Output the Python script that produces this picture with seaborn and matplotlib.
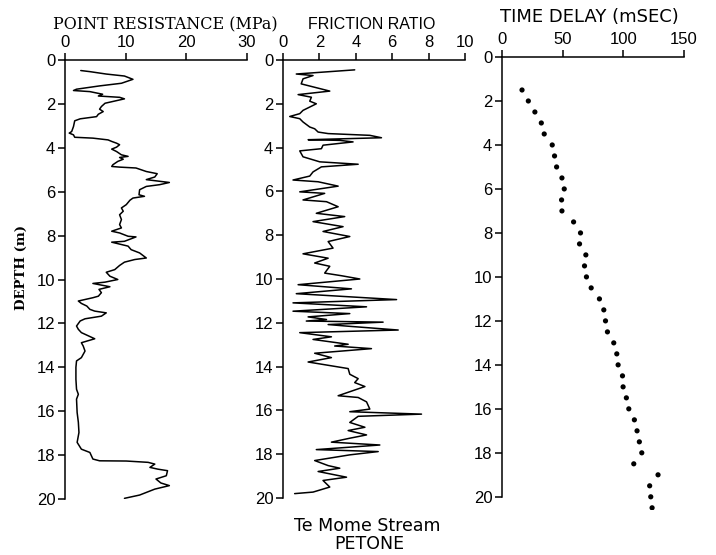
import matplotlib
matplotlib.use("Agg")
import matplotlib.pyplot as plt
import seaborn as sns
import pandas as pd

# Cone penetration log, Te Mome Stream, Petone
qc_depth = [0.48, 0.53, 0.64, 0.73, 0.88, 1.06, 1.18, 1.33, 1.39, 1.44, 1.52, 1.56, 1.64, 1.70,
            1.77, 1.89, 1.97, 2.12, 2.24, 2.35, 2.47, 2.58, 2.68, 2.77, 3.03, 3.26, 3.33, 3.41,
            3.52, 3.56, 3.64, 3.71, 3.79, 3.86, 3.97, 4.06, 4.17, 4.32, 4.39, 4.44, 4.52, 4.62,
            4.77, 4.85, 4.88, 4.92, 5.08, 5.18, 5.33, 5.45, 5.58, 5.68, 5.76, 5.91, 6.14, 6.21,
            6.29, 6.39, 6.59, 6.74, 6.89, 7.05, 7.27, 7.50, 7.65, 7.80, 7.88, 8.03, 8.06, 8.26,
            8.30, 8.48, 8.64, 8.79, 9.02, 9.09, 9.21, 9.36, 9.55, 9.67, 9.85, 10.00, 10.12,
            10.18, 10.33, 10.45, 10.60, 10.76, 10.83, 10.98, 11.09, 11.21, 11.36, 11.44, 11.52,
            11.67, 11.79, 11.89, 12.12, 12.27, 12.42, 12.70, 12.88, 13.03, 13.26, 13.56, 13.71,
            14.00, 14.55, 15.00, 15.23, 15.45, 16.06, 16.50, 16.97, 17.42, 17.73, 17.88, 18.18,
            18.26, 18.27, 18.33, 18.41, 18.56, 18.64, 18.71, 18.94, 19.09, 19.27, 19.39, 19.55,
            19.82, 19.97]
qc_mpa = [2.6, 4.1, 6.8, 9.8, 11.2, 9.3, 5.7, 1.9, 1.4, 4.1, 5.5, 6.2, 5.5, 9.0,
          9.8, 7.9, 6.6, 6.0, 5.7, 6.3, 5.5, 5.2, 2.5, 1.6, 1.4, 1.1, 0.7, 1.4,
          1.6, 4.6, 7.1, 7.7, 8.5, 9.0, 8.5, 7.7, 8.5, 9.3, 10.4, 9.0, 9.6, 8.7,
          7.9, 7.7, 9.0, 11.7, 13.4, 15.2, 14.8, 13.4, 17.2, 15.6, 13.4, 12.3, 12.2, 13.1,
          11.2, 10.7, 10.1, 9.3, 9.6, 9.0, 9.3, 9.0, 9.3, 7.7, 9.0, 10.4, 11.7, 9.8,
          7.7, 10.4, 10.9, 12.3, 13.4, 11.5, 9.8, 9.0, 8.2, 6.8, 7.4, 8.7, 6.6,
          4.6, 7.4, 5.6, 6.0, 5.5, 4.6, 2.2, 2.7, 3.6, 4.1, 4.9, 6.8,
          6.0, 3.3, 2.5, 1.9, 2.2, 2.7, 4.9, 2.7, 3.0, 3.3, 2.7, 1.9,
          1.8, 1.8, 1.9, 2.2, 1.9, 2.0, 2.2, 2.3, 2.0, 2.7, 4.1, 4.6,
          5.7, 10.1, 13.7, 14.8, 14.0, 15.3, 16.9, 16.7, 15.0, 15.8, 17.2, 14.8,
          12.3, 9.8]

fr_depth = [0.45, 0.64, 0.71, 0.86, 1.09, 1.42, 1.58, 1.70, 1.88, 2.00, 2.30, 2.45, 2.58, 2.68,
            2.83, 3.06, 3.14, 3.29, 3.36, 3.44, 3.55, 3.64, 3.67, 3.74, 3.89, 4.05, 4.15, 4.42,
            4.65, 4.76, 4.88, 5.11, 5.30, 5.48, 5.56, 5.76, 6.02, 6.09, 6.39, 6.47, 6.70, 7.00,
            7.15, 7.38, 7.61, 7.83, 8.06, 8.29, 8.59, 8.85, 9.05, 9.27, 9.42, 9.73, 9.85, 10.00,
            10.26, 10.45, 10.67, 10.94, 11.09, 11.27, 11.47, 11.58, 11.73, 11.85, 11.92, 11.97,
            12.08, 12.15, 12.33, 12.45, 12.64, 12.76, 12.98, 13.06, 13.18, 13.39, 13.59, 13.79,
            13.94, 14.09, 14.35, 14.55, 14.73, 14.91, 15.33, 15.41, 15.61, 15.94, 16.06, 16.17,
            16.27, 16.55, 16.77, 16.92, 17.12, 17.27, 17.45, 17.58, 17.79, 17.88, 18.03, 18.29,
            18.52, 18.64, 18.79, 19.05, 19.20, 19.50, 19.73, 19.80]
fr_ratio = [3.94, 0.73, 1.65, 1.10, 1.00, 2.57, 0.83, 1.56, 1.47, 1.83, 1.10, 0.92, 0.37, 0.92,
            1.10, 1.47, 1.74, 1.93, 2.48, 4.77, 5.41, 1.38, 3.12, 3.85, 2.20, 2.11, 0.92, 1.10,
            2.02, 4.13, 2.11, 1.65, 1.47, 0.55, 1.93, 3.03, 0.92, 2.29, 1.10, 2.39, 3.03, 1.83,
            3.39, 1.65, 3.30, 2.20, 3.67, 2.48, 2.75, 1.10, 2.48, 1.74, 2.57, 2.29, 3.21, 4.22,
            0.83, 3.76, 0.73, 6.24, 0.55, 4.59, 0.55, 3.67, 1.38, 2.39, 1.28, 5.50,
            2.48, 3.49, 6.33, 0.92, 2.66, 1.65, 3.58, 2.84, 4.86, 1.74, 2.66, 1.38,
            2.48, 3.58, 3.67, 4.13, 3.94, 4.50, 3.03, 4.13, 4.59, 4.77, 3.67, 7.61,
            4.13, 3.67, 4.50, 3.58, 4.59, 3.67, 2.66, 5.32, 1.83, 5.23, 3.67, 1.74,
            2.48, 3.12, 1.93, 3.49, 2.20, 2.57, 1.65, 0.64]

td_depth = [1.5, 2.0, 2.5, 3.0, 3.5, 4.0, 4.5, 5.0, 5.5, 6.0, 6.5, 7.0, 7.5, 8.0, 8.5, 9.0,
            9.5, 10.0, 10.5, 11.0, 11.5, 12.0, 12.5, 13.0, 13.5, 14.0, 14.5, 15.0, 15.5,
            16.0, 16.5, 17.0, 17.5, 18.0, 18.5, 19.0, 19.5, 20.0, 20.5]
td_msec = [16.5, 21.7, 27.1, 32.4, 34.8, 41.4, 43.3, 45.0, 49.4, 51.3, 49.1, 49.4, 59.0, 64.7,
           63.9, 69.1, 68.0, 69.6, 73.5, 80.3, 83.9, 85.3, 86.9, 92.1, 94.6, 95.7, 99.3,
           99.8, 102.5, 104.5, 109.1, 111.3, 113.2, 115.2, 108.6, 128.6, 121.7, 122.6, 123.7]

depth_ticks = list(range(0, 21, 2))
qc_ticks = [0, 10, 20, 30]
fr_ticks = [0, 2, 4, 6, 8, 10]
td_ticks = [0, 50, 100, 150]

sns.set_style("ticks")
plt.rcParams["font.family"] = ["Liberation Sans", "DejaVu Sans"]
plt.rcParams.update({
    "axes.linewidth": 1.1,
    "axes.edgecolor": "black",
    "text.color": "black",
    "axes.labelcolor": "black",
    "xtick.color": "black",
    "ytick.color": "black",
})

W, H = 716, 555
fig = plt.figure(figsize=(W / 100, H / 100), dpi=100)


def px_axes(x0, x1, ytop, ybot):
    return fig.add_axes([x0 / W, 1 - ybot / H, (x1 - x0) / W, (ybot - ytop) / H])


def style_log(ax, xmax, xticks, ymax):
    ax.set_xlim(0, xmax)
    ax.set_ylim(ymax, 0)
    ax.xaxis.set_ticks_position("top")
    ax.xaxis.set_label_position("top")
    ax.set_xticks(xticks)
    ax.set_yticks(depth_ticks)
    ax.spines["right"].set_visible(False)
    ax.spines["bottom"].set_visible(False)
    ax.spines["left"].set_bounds(0, 20)
    ax.tick_params(axis="both", direction="out", length=5, width=1.1,
                   labelsize=12, color="black", labelcolor="black", pad=2)
    ax.set_xlabel("")
    ax.set_ylabel("")


# Point resistance
ax1 = px_axes(65, 247, 60, 499)
sns.lineplot(data=pd.DataFrame({"qc": qc_mpa, "depth": qc_depth}), x="qc", y="depth",
             sort=False, estimator=None, color="black", linewidth=1.1, ax=ax1)
style_log(ax1, 30, qc_ticks, 20)
ax1.set_title("POINT RESISTANCE (MPa)", family="DejaVu Serif", fontsize=11.5,
              pad=22, x=0.55)

# Friction ratio
ax2 = px_axes(283, 465, 60, 498)
sns.lineplot(data=pd.DataFrame({"fr": fr_ratio, "depth": fr_depth}), x="fr", y="depth",
             sort=False, estimator=None, color="black", linewidth=1.1, ax=ax2)
style_log(ax2, 10, fr_ticks, 20)
ax2.set_title("FRICTION RATIO", fontsize=11.5, pad=22, x=0.49)

# Shear-wave time delay
ax3 = px_axes(502, 684, 57, 510)
sns.scatterplot(data=pd.DataFrame({"td": td_msec, "depth": td_depth}), x="td", y="depth",
                color="black", s=14, edgecolor="none", ax=ax3)
style_log(ax3, 150, td_ticks, 20.6)
ax3.set_title("TIME DELAY (mSEC)", family="DejaVu Sans", fontsize=13, pad=25, x=0.478)

fig.text(21 / W, 1 - 268 / H, "DEPTH (m)", rotation=90, ha="center", va="center",
         family="DejaVu Serif", fontsize=9.5, fontweight="bold")
fig.text(367 / W, 1 - 531 / H, "Te Mome Stream", ha="center", va="baseline",
         family="DejaVu Sans", fontsize=12.5)
fig.text(369 / W, 1 - 549 / H, "PETONE", ha="center", va="baseline",
         family="DejaVu Sans", fontsize=12.5)

fig.savefig("out.png", dpi=100)
